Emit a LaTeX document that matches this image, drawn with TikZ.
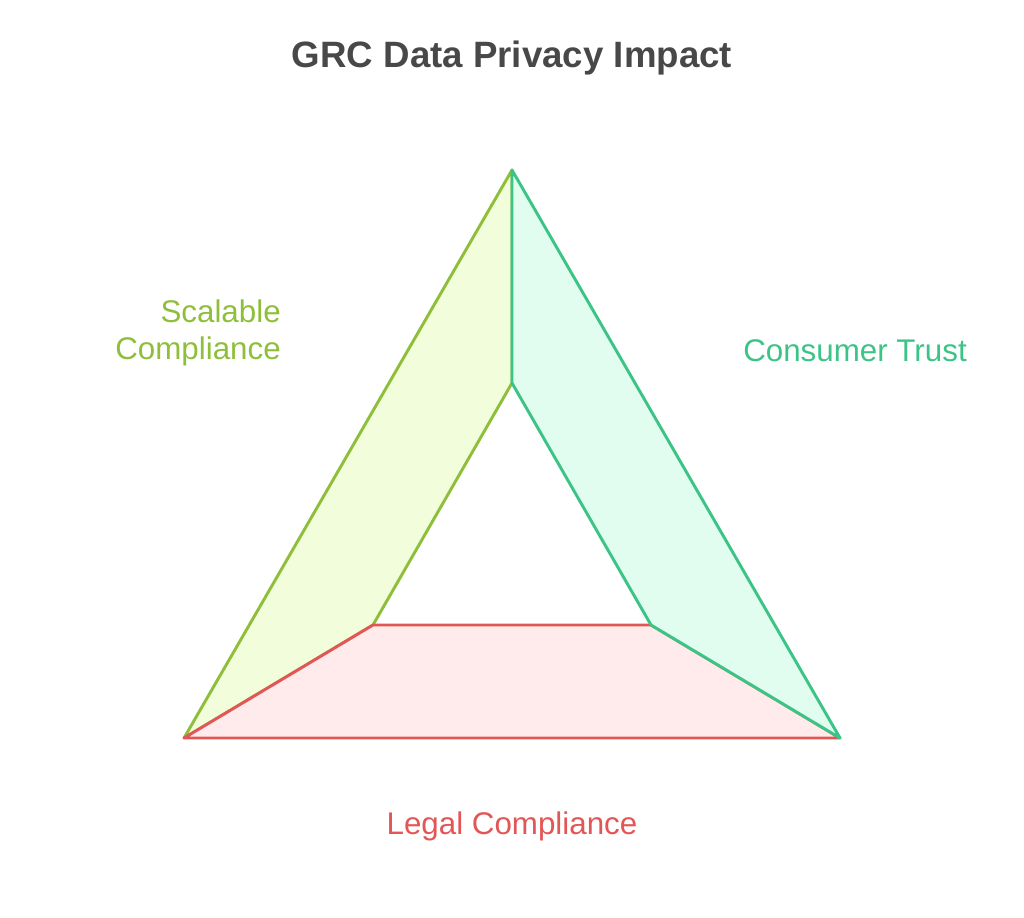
\documentclass[tikz,border=0pt]{standalone}
\usepackage{fontspec}
\setmainfont{Liberation Sans}
\usepackage{tikz}

\definecolor{scaleline}{RGB}{143,191,58}
\definecolor{scalefill}{RGB}{241,253,219}
\definecolor{trustline}{RGB}{60,196,135}
\definecolor{trustfill}{RGB}{224,253,240}
\definecolor{legalline}{RGB}{227,86,86}
\definecolor{legalfill}{RGB}{255,235,235}
\definecolor{titlegray}{RGB}{72,72,72}

\tikzset{
  side/.style={line width=2.2pt, line join=round},
  lbl/.style={inner sep=0pt, font=\fontsize{23.5}{27.75}\selectfont},
}

\begin{document}
\begin{tikzpicture}[x=0.75pt,y=0.75pt,yscale=-1]
\useasboundingbox (0,0) rectangle (1024,917);

%Outer corners
\coordinate (oT) at (512,170);
\coordinate (oL) at (184,738);
\coordinate (oR) at (840,738);
%Inner corners
\coordinate (iT) at (512,383);
\coordinate (iL) at (373,625);
\coordinate (iR) at (651,625);

%Shape: Scalable side
\draw [side, draw=scaleline, fill=scalefill] (oT) -- (iT) -- (iL) -- (oL) -- cycle ;
%Shape: Legal side
\draw [side, draw=legalline, fill=legalfill] (oL) -- (iL) -- (iR) -- (oR) -- cycle ;
%Shape: Trust side
\draw [side, draw=trustline, fill=trustfill] (oT) -- (oR) -- (iR) -- (iT) -- cycle ;

% Text Node
\node (title) at (512,58) [inner sep=0pt, text=titlegray, font=\fontsize{27.5}{32}\selectfont\bfseries] {GRC Data Privacy Impact};
% Text Node
\node (scalable) at (281,333) [lbl, anchor=east, align=right, text=scaleline] {Scalable\\Compliance};
% Text Node
\node (trust) at (743,351) [lbl, anchor=west, text=trustline] {Consumer Trust};
% Text Node
\node (legal) at (512,826) [lbl, text=legalline] {Legal Compliance};

\end{tikzpicture}
\end{document}
